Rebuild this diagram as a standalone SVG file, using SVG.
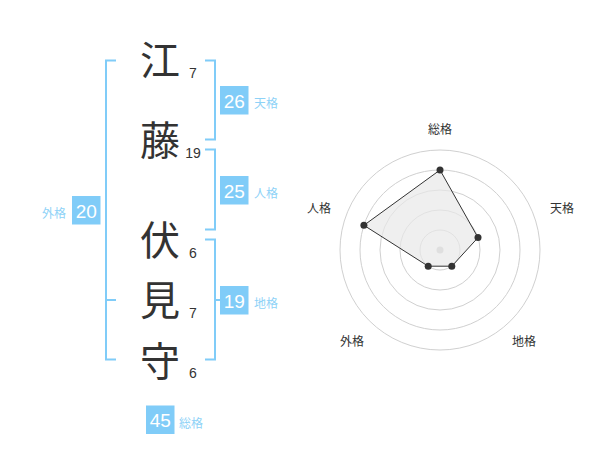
<svg xmlns="http://www.w3.org/2000/svg" width="600" height="470" viewBox="0 0 600 470">
<style>
.ch{font-family:"Noto Sans CJK JP","Noto Sans CJK SC",sans-serif;font-size:40px;fill:#333;text-anchor:middle}
.st{font-family:"Liberation Sans",Arial,sans-serif;font-size:14px;fill:#333;text-anchor:middle}
.br{fill:none;stroke:#80ccf8;stroke-width:2}
.bx{fill:#80ccf8}
.bn{font-family:"Liberation Sans",Arial,sans-serif;font-size:19px;fill:#fff;text-anchor:middle}
.lb{font-family:"Noto Sans CJK JP","Noto Sans CJK SC",sans-serif;font-size:12px;fill:#8ed2f7}
.rg{fill:none;stroke:#d0d0d0;stroke-width:1}
.rl{font-family:"Noto Sans CJK JP","Noto Sans CJK SC",sans-serif;font-size:12px;fill:#333;text-anchor:middle}
.pt{fill:#333}
</style>
<rect width="600" height="470" fill="#fff"/>
<g id="chars">
<g id="c1"><text class="ch" x="160" y="75">江</text><text class="st" x="193" y="78">7</text></g>
<g id="c2"><text class="ch" x="160" y="155">藤</text><text class="st" x="193" y="158">19</text></g>
<g id="c3"><text class="ch" x="160" y="255">伏</text><text class="st" x="193" y="258">6</text></g>
<g id="c4"><text class="ch" x="160" y="315">見</text><text class="st" x="193" y="318">7</text></g>
<g id="c5"><text class="ch" x="160" y="376">守</text><text class="st" x="193" y="378">6</text></g>
</g>
<g id="connectors">
<path class="br" d="M116,60.5 H106 V359.5 H116 M106,300 H116"/>
<path class="br" d="M205,60.5 H215 V139.5 H205"/>
<path class="br" d="M205,149.5 H215 V229.5 H205"/>
<path class="br" d="M205,239.5 H215 V359.5 H205 M215,300 H220"/>
</g>
<g id="tenkaku"><rect class="bx" x="220" y="86" width="28.5" height="28.5"/><text class="bn" x="234.3" y="107.5">26</text><text class="lb" x="254" y="108">天格</text></g>
<g id="jinkaku"><rect class="bx" x="220" y="176" width="28.5" height="28.5"/><text class="bn" x="234.3" y="197.5">25</text><text class="lb" x="254" y="198">人格</text></g>
<g id="chikaku"><rect class="bx" x="220" y="286" width="28.5" height="28.5"/><text class="bn" x="234.3" y="307.5">19</text><text class="lb" x="254" y="308">地格</text></g>
<g id="gaikaku"><rect class="bx" x="72" y="196" width="28.5" height="28.5"/><text class="bn" x="86.3" y="217.5">20</text><text class="lb" x="42" y="218">外格</text></g>
<g id="soukaku"><rect class="bx" x="146" y="405.5" width="28.5" height="28.5"/><text class="bn" x="160.3" y="427">45</text><text class="lb" x="179" y="428">総格</text></g>
<g id="radar">
<circle class="rg" cx="440" cy="250" r="20"/>
<circle class="rg" cx="440" cy="250" r="40"/>
<circle class="rg" cx="440" cy="250" r="60"/>
<circle class="rg" cx="440" cy="250" r="80"/>
<circle class="rg" cx="440" cy="250" r="100"/>
<circle cx="440" cy="250" r="3.5" fill="#c8c8c8"/>
<polygon points="440,170 478,237.6 451.8,266.2 428.2,266.2 363.9,225.3" fill="#e8e8e8" fill-opacity="0.7" stroke="#333" stroke-width="1"/>
<circle class="pt" cx="440" cy="170" r="3.5"/>
<circle class="pt" cx="478" cy="237.6" r="3.5"/>
<circle class="pt" cx="451.8" cy="266.2" r="3.5"/>
<circle class="pt" cx="428.2" cy="266.2" r="3.5"/>
<circle class="pt" cx="363.9" cy="225.3" r="3.5"/>
<text class="rl" x="440" y="134">総格</text>
<text class="rl" x="562" y="213">天格</text>
<text class="rl" x="524" y="346">地格</text>
<text class="rl" x="352" y="346">外格</text>
<text class="rl" x="319" y="213">人格</text>
</g>
</svg>
